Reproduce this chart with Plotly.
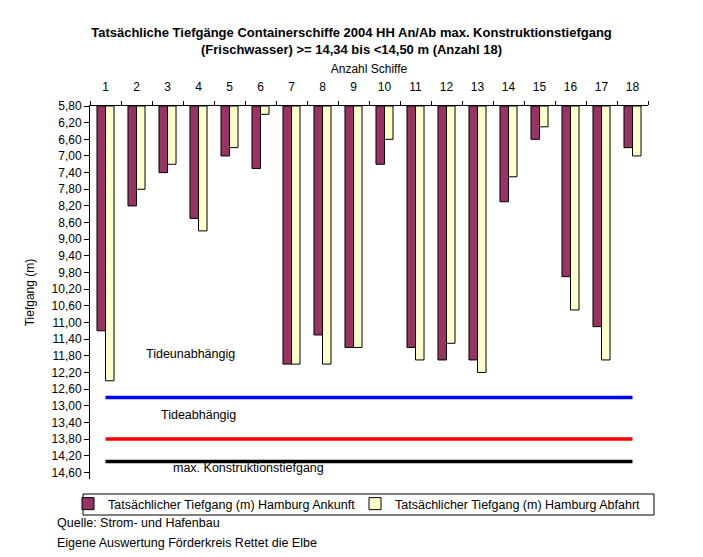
import plotly.graph_objects as go

# ---- data ----
schiffe = [str(i) for i in range(1, 19)]
ankunft = [11.20, 8.20, 7.40, 8.50, 7.00, 7.30, 12.00, 11.30, 11.60, 7.20,
           11.60, 11.90, 11.90, 8.10, 6.60, 9.90, 11.10, 6.80]
abfahrt = [12.40, 7.80, 7.20, 8.80, 6.80, 6.00, 12.00, 12.00, 11.60, 6.60,
           11.90, 11.50, 12.20, 7.50, 6.30, 10.70, 11.90, 7.00]
axis_top = 5.80
axis_bottom = 14.76
tick_values = [round(5.80 + 0.40 * i, 2) for i in range(23)]
grenze_tideunabh = 12.80
grenze_tideabh = 13.80
max_konstruktion = 14.34

FONT = "Liberation Sans, Arial, sans-serif"

# plot-area geometry (pixels) used to convert page positions to paper coords
PL, PR, PT, PB = 90, 648, 106, 479
PW, PH = PR - PL, PB - PT


def px(xpix):
    return (xpix - PL) / PW


def py(ypix):
    return (PB - ypix) / PH


fig = go.Figure()
fig.add_trace(go.Bar(
    x=schiffe, y=[v - axis_top for v in ankunft], base=axis_top,
    name="Tatsächlicher Tiefgang (m) Hamburg Ankunft",
    marker=dict(color="#993366", line=dict(color="black", width=1)),
    legend="legend",
))
fig.add_trace(go.Bar(
    x=schiffe, y=[v - axis_top for v in abfahrt], base=axis_top,
    name="Tatsächlicher Tiefgang (m) Hamburg Abfahrt",
    marker=dict(color="#FFFFCC", line=dict(color="black", width=1)),
    legend="legend2",
))
for val, col in [(grenze_tideunabh, "#0000FF"), (grenze_tideabh, "#FF0000"),
                 (max_konstruktion, "#000000")]:
    fig.add_trace(go.Scatter(
        x=[schiffe[0], schiffe[-1]], y=[val, val], mode="lines",
        line=dict(color=col, width=3.5), showlegend=False, hoverinfo="skip",
    ))

legend_common = dict(
    orientation="h", xanchor="left", yanchor="middle",
    borderwidth=0, bgcolor="rgba(0,0,0,0)",
    font=dict(size=12.5, family=FONT), itemwidth=30,
)

fig.update_layout(
    width=703, height=557,
    margin=dict(l=PL, r=703 - PR, t=PT, b=557 - PB, autoexpand=False),
    paper_bgcolor="white", plot_bgcolor="white",
    separators=",.",
    barmode="group", bargap=0.45, bargroupgap=0,
    font=dict(family=FONT, size=12, color="black"),
    title=dict(
        text="<b>Tatsächliche Tiefgänge Containerschiffe 2004 HH An/Ab max. Konstruktionstiefgang<br>(Frischwasser) >= 14,34 bis <14,50 m (Anzahl 18)</b>",
        x=0.5, xanchor="center", xref="container",
        y=1 - 37 / 557, yanchor="middle", yref="container",
        font=dict(family=FONT, size=13, color="black"),
    ),
    xaxis=dict(
        type="category", side="top", tickson="boundaries",
        ticks="outside", ticklen=4, tickcolor="black",
        showline=True, linecolor="black", linewidth=1,
        showgrid=False, zeroline=False,
        ticklabelstandoff=9, tickangle=0,
        title=dict(text="Anzahl Schiffe", standoff=4, font=dict(size=12)),
        tickfont=dict(size=12),
    ),
    yaxis=dict(
        range=[axis_bottom, axis_top],
        tickvals=tick_values, tickformat=".2f",
        ticks="outside", ticklen=5, tickcolor="black",
        showline=True, linecolor="black", linewidth=1,
        showgrid=False, zeroline=False,
        title=dict(text="Tiefgang (m)", standoff=14, font=dict(size=12)),
        tickfont=dict(size=12),
    ),
    legend=dict(x=px(68), y=py(504), **legend_common),
    legend2=dict(x=px(355), y=py(504), **legend_common),
    shapes=[dict(type="rect", xref="paper", yref="paper",
                 x0=px(83), x1=px(654), y0=py(494), y1=py(515),
                 line=dict(color="black", width=1), fillcolor="white",
                 layer="below")],
)

annots = [
    ("Tideunabhängig", 190.7, 11.76),
    ("Tideabhängig", 198.3, 13.23),
    ("max. Konstruktionstiefgang", 248, 14.49),
]
for txt, xpix, yv in annots:
    fig.add_annotation(text=txt, x=px(xpix), xref="paper", xanchor="center",
                       y=yv, yref="y", yanchor="middle",
                       showarrow=False, font=dict(size=12.5, family=FONT))

for txt, ypix in [("Quelle: Strom- und Hafenbau", 523),
                  ("Eigene Auswertung Förderkreis Rettet die Elbe", 543)]:
    fig.add_annotation(text=txt, x=px(55), xref="paper", xanchor="left",
                       y=py(ypix), yref="paper", yanchor="middle",
                       showarrow=False, font=dict(size=12.5, family=FONT))

fig.write_html("out.html", config={"displayModeBar": False},
               post_script="document.body.style.margin='0px';")
